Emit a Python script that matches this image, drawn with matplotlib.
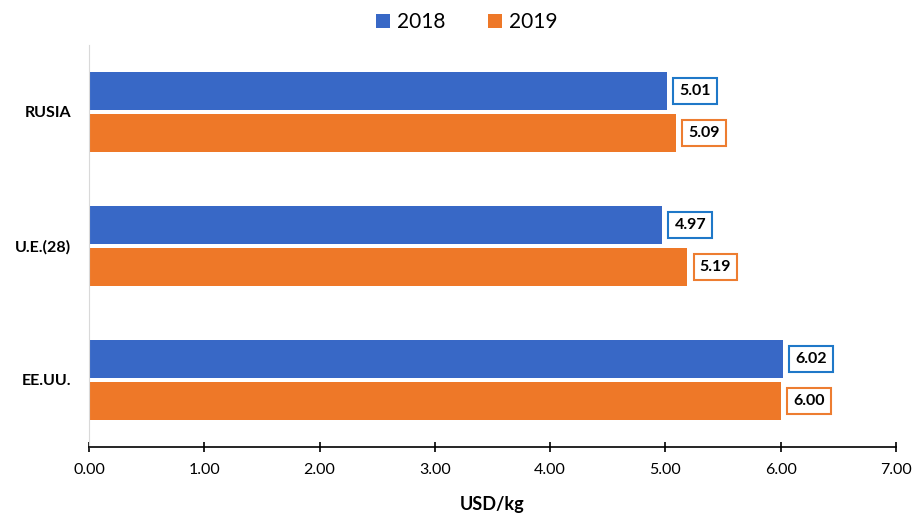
import matplotlib
matplotlib.use("Agg")
import matplotlib.pyplot as plt
import numpy as np

categories = ["EE.UU.", "U.E.(28)", "RUSIA"]
values_2018 = [6.02, 4.97, 5.01]
values_2019 = [6.00, 5.19, 5.09]
series_names = ["2018", "2019"]
xticks = [0, 1, 2, 3, 4, 5, 6, 7]

plt.rcParams['font.family'] = ['Lato', 'DejaVu Sans']

fig = plt.figure(figsize=(9.17, 5.21), dpi=100)
ax = fig.add_axes([0.097, 0.142, 0.880, 0.772])

y = np.arange(len(categories))
h = 0.284
off = 0.157
c18 = "#3868c6"
c19 = "#ee7828"
b1 = ax.barh(y + off, values_2018, height=h, color=c18, label=series_names[0])
b2 = ax.barh(y - off, values_2019, height=h, color=c19, label=series_names[1])

for bars, vals, ec in [(b1, values_2018, "#1f78c8"), (b2, values_2019, "#ed7d31")]:
    for bar, v in zip(bars, vals):
        ax.annotate(f"{v:.2f}", xy=(v, bar.get_y() + bar.get_height() / 2),
                    xytext=(9, 0), textcoords="offset points", va="center", ha="left",
                    fontsize=11.5, fontweight="bold", color="black",
                    bbox=dict(boxstyle="square,pad=0.38", fc="white", ec=ec, lw=1.5))

ax.set_xlim(0, 7)
ax.set_ylim(-0.5, 2.5)
ax.set_xticks(xticks)
ax.set_xticklabels([f"{t:.2f}" for t in xticks], fontsize=11.5)
ax.set_yticks(y)
ax.set_yticklabels(categories, fontsize=11.5, fontweight="bold")
ax.tick_params(axis="y", length=0, pad=13)
ax.tick_params(axis="x", direction="inout", length=7, width=1.2, pad=8)
for s in ["top", "right"]:
    ax.spines[s].set_visible(False)
ax.spines["left"].set_color("#d9d9d9")
ax.spines["bottom"].set_linewidth(1.2)
ax.set_xlabel("USD/kg", fontsize=13, fontweight="bold", labelpad=14)

fig.legend(handles=[b1, b2], labels=series_names, loc="upper center", bbox_to_anchor=(0.509, 1.012),
           ncol=2, frameon=False, fontsize=15, handlelength=0.7, handleheight=0.7,
           columnspacing=2.0, handletextpad=0.35)

fig.savefig("out.png", dpi=100)
